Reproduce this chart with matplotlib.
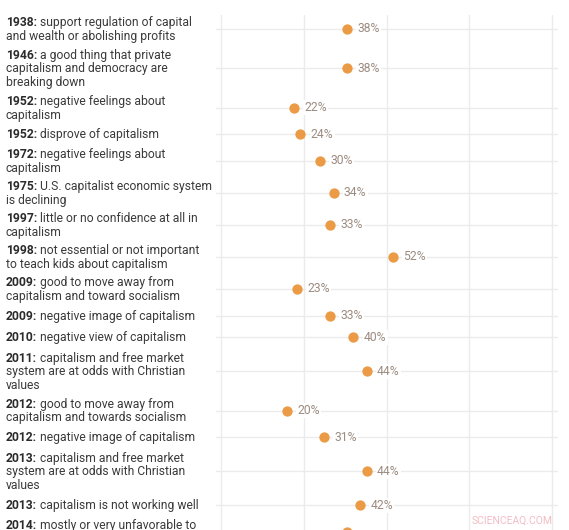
# dot chart: share of Americans holding anti-capitalist views, by poll

import matplotlib
matplotlib.use("Agg")
import matplotlib.pyplot as plt
import matplotlib.transforms as mtransforms

years = ["1938", "1946", "1952", "1952", "1972", "1975", "1997", "1998",
         "2009", "2009", "2010", "2011", "2012", "2012", "2013", "2013", "2014"]
questions = [
    ["support regulation of capital", "and wealth or abolishing profits"],
    ["a good thing that private", "capitalism and democracy are", "breaking down"],
    ["negative feelings about", "capitalism"],
    ["disprove of capitalism"],
    ["negative feelings about", "capitalism"],
    ["U.S. capitalist economic system", "is declining"],
    ["little or no confidence at all in", "capitalism"],
    ["not essential or not important", "to teach kids about capitalism"],
    ["good to move away from", "capitalism and toward socialism"],
    ["negative image of capitalism"],
    ["negative view of capitalism"],
    ["capitalism and free market", "system are at odds with Christian", "values"],
    ["good to move away from", "capitalism and towards socialism"],
    ["negative image of capitalism"],
    ["capitalism and free market", "system are at odds with Christian", "values"],
    ["capitalism is not working well"],
    ["mostly or very unfavorable to", "capitalism"],
]
values = [38, 38, 22, 24, 30, 34, 33, 52, 23, 33, 40, 44, 20, 31, 44, 42, 38]
xticks = [0, 25, 50, 75, 100]

W, H = 569, 530
plt.rcParams['font.family'] = ['Roboto', 'DejaVu Sans']
fig = plt.figure(figsize=(W / 100, H / 100), dpi=100)

# axes: y in pixels from top, so row layout follows label line count
ax_top, ax_left, ax_right = 15, 216, 558
ax = fig.add_axes([ax_left / W, 0, (ax_right - ax_left) / W, (H - ax_top) / H])
ax.set_xlim(-1.5, 101.8)
ax.set_ylim(H, ax_top)
ax.axis("off")

row_h = {1: 21.5, 2: 32, 3: 46.5}
lh = 13.6
fs = 8.7

centers = []
y = 13
for q in questions:
    h = row_h[len(q)]
    centers.append(y + h / 2)
    y += h

for xt in xticks:
    ax.axvline(xt, color="#ebebeb", lw=1, zorder=0)
for c in centers:
    ax.axhline(c, color="#ebebeb", lw=1, zorder=0)

ax.scatter(values, centers, s=55, color="#EB9A45", zorder=3, linewidths=0)
for v, c in zip(values, centers):
    ax.annotate(f"{v}%", (v, c), xytext=(7.5, 0), textcoords="offset points",
                va="center", ha="left", fontsize=fs, color="#9c8b80", zorder=4,
                bbox=dict(boxstyle="square,pad=0.1", fc="white", ec="none"))

trans = mtransforms.blended_transform_factory(fig.transFigure, ax.transData)
x0 = 6 / W
for yr, q, c in zip(years, questions, centers):
    n = len(q)
    for i, line in enumerate(q):
        base = c - (n - 1) * lh / 2 + i * lh + 4.2
        if i == 0:
            t = ax.text(x0, base, yr + ":", transform=trans, fontsize=fs,
                        fontweight="bold", color="#2b2b2b", va="baseline",
                        ha="left", clip_on=False)
            ax.annotate(line, xy=(1, 0), xycoords=t, xytext=(2.3, 0),
                        textcoords="offset points", fontsize=fs,
                        color="#3a3a3a", va="bottom", ha="left")
        else:
            ax.text(x0, base, line, transform=trans, fontsize=fs,
                    color="#3a3a3a", va="baseline", ha="left", clip_on=False)

fig.text(553 / W, 1 - 521 / H, "SCIENCEAQ.COM", fontsize=7.5, color="#f2bcc4",
         ha="right", va="center")

fig.savefig("out.png", dpi=100, facecolor="white")
